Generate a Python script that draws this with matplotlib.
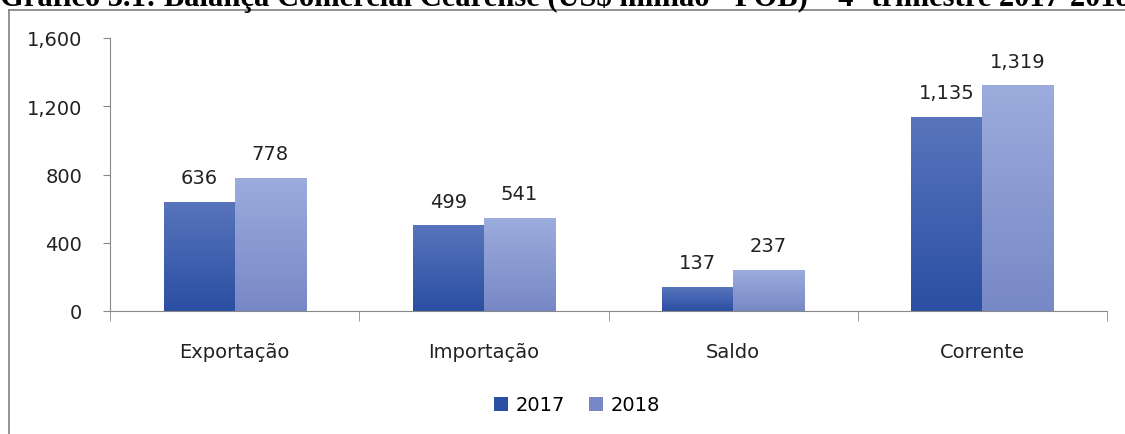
import matplotlib
matplotlib.use("Agg")
import matplotlib.pyplot as plt
import numpy as np
from matplotlib.colors import LinearSegmentedColormap
from matplotlib.lines import Line2D

categories = ["Exportação", "Importação", "Saldo", "Corrente"]
series_names = ["2017", "2018"]
values_2017 = [636, 499, 137, 1135]
values_2018 = [778, 541, 237, 1319]
yticks = [0, 400, 800, 1200, 1600]
title = "Gráfico 3.1: Balança Comercial Cearense (US$ milhão - FOB) – 4º trimestre 2017-2018"

plt.rcParams['font.family'] = ['DejaVu Sans']
FS = 14
TC = '#222222'

fig = plt.figure(figsize=(11.25, 4.35), dpi=100)
ax = fig.add_axes([110/1125, 123/435, (1107-110)/1125, (312-39)/435])

x = np.arange(len(categories))
w = 0.285
col17 = ("#5874BC", "#2B4FA3")
col18 = ("#9CACDC", "#7788C6")

bars17 = ax.bar(x - w/2, values_2017, w, color=col17[1], label=series_names[0], zorder=2)
bars18 = ax.bar(x + w/2, values_2018, w, color=col18[1], label=series_names[1], zorder=2)

def gradient(bars, cols):
    cmap = LinearSegmentedColormap.from_list("g", [cols[1], cols[0]])
    grad = np.linspace(0, 1, 256).reshape(-1, 1)
    for b in bars:
        x0, y0 = b.get_x(), b.get_y()
        ax.imshow(grad, cmap=cmap, aspect='auto', origin='lower',
                  extent=[x0, x0 + b.get_width(), y0, y0 + b.get_height()],
                  zorder=2.5, clip_path=b)
gradient(bars17, col17)
gradient(bars18, col18)

for bars in (bars17, bars18):
    for b in bars:
        ax.annotate(f"{int(b.get_height()):,}", (b.get_x() + b.get_width()/2, b.get_height()),
                    xytext=(0, 11), textcoords='offset points', ha='center', va='bottom',
                    fontsize=FS, color=TC)

ax.set_xlim(-0.5, len(categories) - 0.5)
ax.set_ylim(0, 1600)
ax.set_yticks(yticks)
ax.set_yticklabels([f"{v:,}" for v in yticks], fontsize=FS, color=TC)
ax.set_xticks(x)
ax.set_xticklabels(categories, fontsize=FS, color=TC)
ax.tick_params(axis='x', length=0, pad=22)
ax.set_xticks(np.arange(len(categories) + 1) - 0.5, minor=True)
ax.tick_params(axis='x', which='minor', length=7, color='#888888')
ax.tick_params(axis='y', length=5, color='#888888', pad=15)
for s in ['top', 'right']:
    ax.spines[s].set_visible(False)
ax.spines['left'].set_color('#888888')
ax.spines['bottom'].set_color('#888888')

fig.legend(handles=[bars17, bars18], labels=series_names, loc='center',
           bbox_to_anchor=(577/1125, 1 - 406/435), ncol=2, frameon=False,
           fontsize=FS, handlelength=0.75, handleheight=0.75,
           handletextpad=0.4, columnspacing=1.2)

y_top = 1 - 10.5/435
x_left = 8.5/1125
fig.add_artist(Line2D([x_left, 1.0], [y_top, y_top], transform=fig.transFigure,
                      color='#7f7f7f', lw=1.2))
fig.add_artist(Line2D([x_left, x_left], [0.0, y_top], transform=fig.transFigure,
                      color='#7f7f7f', lw=1.2))
fig.text(0.0, 1 - 6/435, title, fontsize=22, family='Liberation Serif', weight='bold',
         ha='left', va='baseline', color='black')

fig.savefig("out.png", dpi=100)
